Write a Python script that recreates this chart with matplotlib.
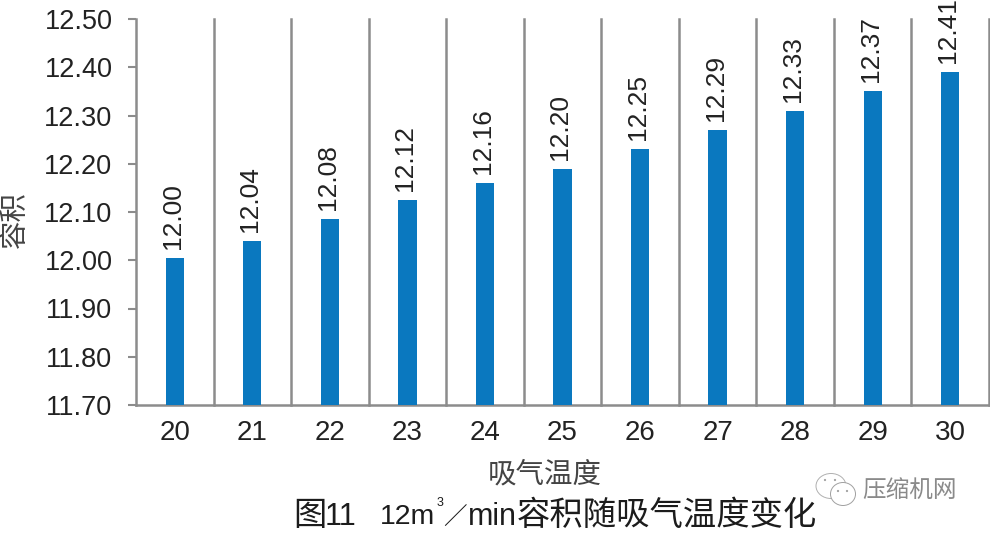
#!/usr/bin/env python3
import matplotlib
matplotlib.use("Agg")
import matplotlib.pyplot as plt
from matplotlib.patches import Circle, Ellipse

temps = [20, 21, 22, 23, 24, 25, 26, 27, 28, 29, 30]
# bar heights as drawn; the printed labels run a little higher at the right end
heights = [12.005, 12.04, 12.085, 12.125, 12.16, 12.19, 12.23, 12.27, 12.31, 12.35, 12.39]
labels = ["12.00", "12.04", "12.08", "12.12", "12.16", "12.20",
          "12.25", "12.29", "12.33", "12.37", "12.41"]
yticks = [11.70, 11.80, 11.90, 12.00, 12.10, 12.20, 12.30, 12.40, 12.50]

W, H = 990, 534
NUM = "Liberation Sans"
CJK = "Noto Sans CJK SC"
GREY = "#8c8c8c"
INK = "#222222"
TITLE = "#1c1c1c"


def title_piece(fig, x, y, s, family, size, **kw):
    kw.setdefault("ha", "left")
    fig.text(x / W, 1 - y / H, s, family=family, fontsize=size, color=TITLE,
             va="center", **kw)


def main():
    fig = plt.figure(figsize=(W / 100, H / 100), dpi=100)
    ax = fig.add_axes([136 / W, 1 - 405 / H, (989 - 136) / W, (405 - 19) / H])

    xs = list(range(len(temps)))
    ax.bar(xs, heights, width=0.235, color="#0a78bf", zorder=3)
    ax.set_xlim(-0.5, len(temps) - 0.5)
    ax.set_ylim(11.70, 12.50)

    # separators between the categories
    for i in range(1, len(temps) + 1):
        ax.axvline(i - 0.5, color=GREY, lw=1.8, zorder=1, clip_on=False)

    for s in ["top", "right"]:
        ax.spines[s].set_visible(False)
    for s in ["left", "bottom"]:
        ax.spines[s].set_color(GREY)
        ax.spines[s].set_linewidth(1.8)

    ax.set_xticks(xs)
    ax.set_xticklabels([str(t) for t in temps], fontfamily=NUM, fontsize=20, color=INK)
    ax.tick_params(axis="x", length=0, pad=11)
    ax.set_yticks(yticks)
    ax.set_yticklabels(["%.2f" % v for v in yticks], fontfamily=NUM, fontsize=19.5, color=INK,
                       va="center_baseline")
    ax.tick_params(axis="y", length=6, width=1.5, color=GREY, pad=11)

    for x, h, lab in zip(xs, heights, labels):
        ax.annotate(lab, (x, h), xytext=(-1.5, 6.5), textcoords="offset points", rotation=90,
                    ha="center", va="bottom", fontfamily=NUM, fontsize=19, color=INK,
                    annotation_clip=False)

    fig.text(545 / W, 1 - 474 / H, "吸气温度", family=CJK, fontsize=20.5, weight="light",
             color="#444444", ha="center", va="center")
    fig.text(15 / W, 1 - 220 / H, "容积", family=CJK, fontsize=20.5, weight="light",
             color="#444444", rotation=90, ha="center", va="center")

    # title is in pieces so the 3 can sit up as a superscript
    title_piece(fig, 293, 516, "图", CJK, 24, weight="light")
    title_piece(fig, 325, 517, "11", NUM, 22)
    title_piece(fig, 380, 517, "12m", NUM, 20.5)
    title_piece(fig, 437, 503, "3", NUM, 9)
    title_piece(fig, 443, 518, "／", CJK, 17, weight="light")
    title_piece(fig, 468, 517, "min", NUM, 22)
    title_piece(fig, 817, 516, "容积随吸气温度变化", CJK, 24, weight="light", ha="right")

    # watermark
    fig.text(910 / W, 1 - 490 / H, "压缩机网", family=CJK, fontsize=17, weight="light",
             color="#8a8a8a", ha="center", va="center")
    bg = fig.add_axes([0, 0, 1, 1], facecolor="none", zorder=5)
    bg.set_xlim(0, W)
    bg.set_ylim(H, 0)
    bg.axis("off")
    bg.add_patch(Ellipse((831, 486), 30, 25, fill=False, ec="#b0b0b0", lw=0.7))
    bg.add_patch(Ellipse((843, 494), 25, 23, fc="white", ec="#a0a0a0", lw=0.7))
    for ex, ey in [(825, 480), (835, 480), (838, 491), (847, 491)]:
        bg.add_patch(Circle((ex, ey), 1.1, fc="#a0a0a0", ec="none"))

    fig.savefig("out.png", dpi=100)


if __name__ == "__main__":
    main()
